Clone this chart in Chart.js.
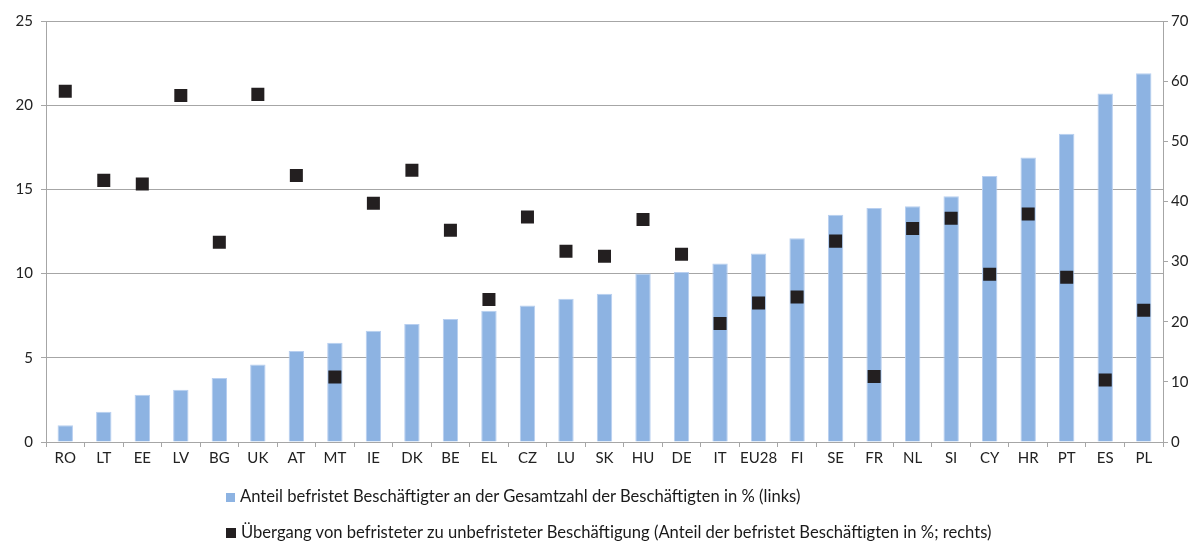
<!DOCTYPE html>
<html lang="de">
<head>
<meta charset="UTF-8"/>
<title>Befristete Beschäftigung</title>
<script src="https://cdn.jsdelivr.net/npm/chart.js"></script>
<style>
    html, body { margin: 0; padding: 0; background: #fff; }
    .wrap { position: relative; width: 1202px; height: 542px; }
    .legend { position: absolute; left: 226px; top: 486px; font-family: Lato, sans-serif; font-size: 16.6px; color: #1a1a1a; white-space: nowrap; }
    .legend div { height: 36px; line-height: 21px; }
    .box { display: inline-block; width: 9px; height: 9px; margin-right: 5px; vertical-align: 0px; }
</style>
</head>
<body>
<div class="wrap">
    <canvas id="grafico" width="1202" height="542"></canvas>
    <div class="legend">
        <div><span class="box" style="background:#8db3e2"></span>Anteil befristet Beschäftigter an der Gesamtzahl der Beschäftigten in % (links)</div>
        <div><span class="box" style="background:#231f20; width:10px; height:10px"></span>Übergang von befristeter zu unbefristeter Beschäftigung (Anteil der befristet Beschäftigten in %; rechts)</div>
    </div>
</div>
<script>
    // Länder
    const laender = ['RO','LT','EE','LV','BG','UK','AT','MT','IE','DK','BE','EL','CZ','LU','SK','HU','DE','IT','EU28','FI','SE','FR','NL','SI','CY','HR','PT','ES','PL'];
    // Anteil befristet Beschäftigter (linke Achse)
    const anteil = [1.0,1.8,2.8,3.1,3.8,4.6,5.4,5.9,6.6,7.0,7.3,7.8,8.1,8.5,8.8,10.0,10.1,10.6,11.2,12.1,13.5,13.9,14.0,14.6,15.8,16.9,18.3,20.7,21.9];
    // Übergang zu unbefristeter Beschäftigung (rechte Achse)
    const uebergang = [58.3,43.5,42.9,57.6,33.2,57.8,44.3,10.8,39.7,45.2,35.2,23.7,37.4,31.7,30.9,37.0,31.2,19.7,23.1,24.1,33.4,10.9,35.5,37.2,27.9,37.9,27.4,10.3,21.9];
    const ticksLinks = [0,5,10,15,20,25];
    const ticksRechts = [0,10,20,30,40,50,60,70];

    const gitter = '#a6a6a6';
    const schrift = { family: 'Lato, sans-serif', size: 15 };

    const config = {
        type: 'bar',
        data: {
            labels: laender,
            datasets: [
                {
                    type: 'line',
                    label: 'Übergang',
                    data: uebergang,
                    yAxisID: 'y2',
                    showLine: false,
                    pointStyle: 'rect',
                    pointRadius: 9.2,
                    pointHoverRadius: 9.2,
                    pointBackgroundColor: '#231f20',
                    pointBorderWidth: 0,
                    order: 0
                },
                {
                    label: 'Anteil',
                    data: anteil,
                    yAxisID: 'y',
                    backgroundColor: '#8db3e2',
                    borderColor: '#b8cff0',
                    borderWidth: 1,
                    barPercentage: 0.4,
                    categoryPercentage: 1.0,
                    order: 1
                }
            ]
        },
        options: {
            responsive: false,
            animation: false,
            layout: { padding: { top: 21, bottom: 70, left: 0, right: 0 } },
            plugins: { legend: { display: false }, tooltip: { enabled: false } },
            scales: {
                x: {
                    grid: { display: true, drawOnChartArea: false, offset: true, tickLength: 5, color: gitter },
                    border: { color: gitter },
                    ticks: { color: '#222', font: schrift, padding: 2, maxRotation: 0, autoSkip: false },
                    afterFit: s => { s.height = 30; }
                },
                y: {
                    position: 'left',
                    min: 0, max: 25,
                    afterBuildTicks: s => { s.ticks = ticksLinks.map(v => ({ value: v })); },
                    grid: { color: gitter, tickLength: 5 },
                    border: { color: gitter },
                    ticks: { color: '#222', font: schrift, padding: 8 },
                    afterFit: s => { s.width = 46; }
                },
                y2: {
                    position: 'right',
                    min: 0, max: 70,
                    afterBuildTicks: s => { s.ticks = ticksRechts.map(v => ({ value: v })); },
                    grid: { drawOnChartArea: false, color: gitter, tickLength: 5 },
                    border: { color: gitter },
                    ticks: { color: '#222', font: schrift, padding: 3 },
                    afterFit: s => { s.width = 39; }
                }
            }
        }
    };

    new Chart(document.getElementById('grafico').getContext('2d'), config);
</script>
</body>
</html>
